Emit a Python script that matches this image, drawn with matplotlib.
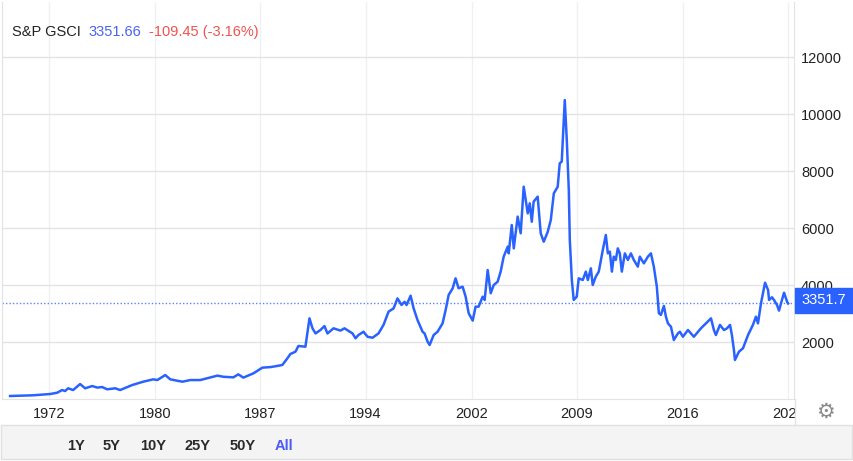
import matplotlib
matplotlib.use("Agg")
import matplotlib.pyplot as plt
from matplotlib.patches import Rectangle
from matplotlib.lines import Line2D
from matplotlib.transforms import Bbox, TransformedBbox

plt.rcParams['font.family'] = ['Liberation Sans', 'DejaVu Sans']

# S&P GSCI index level (decimal year, value)
years = [
    1970.00, 1971.60, 1972.78, 1973.27, 1973.61, 1973.82, 1974.03, 1974.38, 1974.86, 1975.21,
    1975.70, 1976.05, 1976.39, 1976.74, 1977.30, 1977.64, 1978.48, 1979.24, 1979.94, 1980.22,
    1980.77, 1981.12, 1981.95, 1982.51, 1983.20, 1984.39, 1984.80, 1985.50, 1985.84, 1986.19,
    1986.89, 1987.51, 1988.07, 1988.55, 1988.90, 1989.25, 1989.46, 1989.81, 1990.01, 1990.50,
    1990.78, 1990.99, 1991.20, 1991.54, 1991.82, 1992.03, 1992.45, 1992.93, 1993.21, 1993.77,
    1993.98, 1994.18, 1994.53, 1994.81, 1995.16, 1995.57, 1995.92, 1996.27, 1996.62, 1996.89,
    1997.17, 1997.38, 1997.52, 1997.80, 1998.01, 1998.28, 1998.63, 1998.77, 1998.98, 1999.12,
    1999.40, 1999.67, 2000.02, 2000.23, 2000.44, 2000.72, 2000.92, 2001.13, 2001.41, 2001.62,
    2001.83, 2002.11, 2002.31, 2002.52, 2002.80, 2002.94, 2003.15, 2003.36, 2003.57, 2003.84,
    2004.05, 2004.26, 2004.54, 2004.61, 2004.82, 2004.96, 2005.23, 2005.44, 2005.65, 2005.93,
    2006.07, 2006.21, 2006.34, 2006.62, 2006.83, 2007.04, 2007.32, 2007.53, 2007.74, 2008.01,
    2008.15, 2008.29, 2008.50, 2008.64, 2008.78, 2008.85, 2008.99, 2009.12, 2009.33, 2009.47,
    2009.75, 2009.96, 2010.10, 2010.31, 2010.44, 2010.65, 2010.86, 2011.14, 2011.35, 2011.49,
    2011.63, 2011.77, 2011.90, 2012.04, 2012.18, 2012.32, 2012.46, 2012.67, 2012.88, 2013.09,
    2013.29, 2013.57, 2013.71, 2013.99, 2014.27, 2014.48, 2014.68, 2014.89, 2015.03, 2015.17,
    2015.38, 2015.52, 2015.66, 2015.87, 2016.07, 2016.35, 2016.49, 2016.70, 2017.05, 2017.46,
    2017.95, 2018.30, 2018.65, 2018.85, 2018.99, 2019.27, 2019.55, 2019.76, 2019.97, 2020.10,
    2020.24, 2020.31, 2020.59, 2020.87, 2021.22, 2021.56, 2021.77, 2021.91, 2022.12, 2022.40,
    2022.61, 2022.68, 2022.88, 2023.02, 2023.23, 2023.37, 2023.51, 2023.72, 2023.93, 2024.00,
]
values = [
    105, 130, 175, 220, 315, 280, 375, 315, 525, 375,
    455, 400, 420, 340, 375, 315, 490, 607, 690, 665,
    840, 690, 607, 665, 665, 820, 780, 760, 865, 750,
    900, 1100, 1120, 1160, 1195, 1430, 1580, 1660, 1860, 1835,
    2830, 2480, 2300, 2420, 2560, 2300, 2480, 2400, 2480, 2300,
    2130, 2245, 2360, 2185, 2150, 2300, 2600, 3065, 3180, 3530,
    3300, 3410, 3300, 3625, 3180, 2770, 2360, 2300, 2010, 1895,
    2245, 2360, 2655, 3120, 3650, 3885, 4235, 3885, 3940, 3590,
    3010, 2750, 3240, 3240, 3590, 3475, 4525, 3710, 4000, 4115,
    4470, 4995, 5345, 5110, 6105, 5285, 6400, 5815, 7450, 6515,
    6865, 6220, 6925, 7100, 5815, 5520, 5870, 6280, 7215, 7450,
    8270, 8330, 10490, 9090, 7335, 5580, 4175, 3475, 3590, 4235,
    4175, 4470, 4175, 4585, 4000, 4290, 4470, 5230, 5755, 5110,
    5170, 4470, 4995, 4880, 5285, 5110, 4470, 5110, 4880, 5110,
    4880, 4645, 4995, 4760, 4995, 5110, 4645, 3940, 3010, 2950,
    3265, 2890, 2655, 2535, 2070, 2300, 2360, 2185, 2420, 2185,
    2480, 2655, 2830, 2420, 2245, 2600, 2420, 2480, 2600, 2245,
    1720, 1370, 1660, 1780, 2245, 2600, 2890, 2655, 3360, 4080,
    3825, 3475, 3570, 3475, 3300, 3100, 3360, 3730, 3410, 3352,
]
last_value = 3351.66
change = "-109.45 (-3.16%)"

x_ticks = [1972.71, 1980.08, 1987.37, 1994.67, 2002.04, 2009.33, 2016.70, 2024.00]
x_labels = ["1972", "1980", "1987", "1994", "2002", "2009", "2016", "2024"]
y_ticks = [2000, 4000, 6000, 8000, 10000, 12000]
ranges = ["1Y", "5Y", "10Y", "25Y", "50Y", "All"]

W, H = 854, 461
blue = "#2962ff"

fig = plt.figure(figsize=(W / 100, H / 100), dpi=100)
ax = fig.add_axes([2 / W, (H - 399) / H, 792 / W, 397 / H])

ax.plot(years, values, color=blue, lw=1.8, solid_joinstyle="round", zorder=3)
ax.axhline(last_value, color="#5f82ff", lw=1, ls=(0, (1, 1.5)), zorder=2)

ax.set_xlim(1969.44, 2024.41)
ax.set_ylim(0, 13930)
ax.set_xticks(x_ticks)
ax.set_xticklabels(x_labels)
ax.set_yticks(y_ticks)
ax.yaxis.tick_right()
ax.tick_params(axis="both", length=0, labelsize=10.5, labelcolor="#222222")
ax.tick_params(axis="y", pad=5)
ax.tick_params(axis="x", pad=6)
ax.grid(axis="y", color="#e3e3e3", lw=1)
ax.grid(axis="x", color="#eef0f3", lw=1)
ax.spines["top"].set_visible(False)
for s in ["left", "bottom", "right"]:
    ax.spines[s].set_color("#e3e3e3")

# last x label is cut off at the axis edge
clip = TransformedBbox(Bbox([[0, 0], [795 / W, 1]]), fig.transFigure)
for lbl in ax.get_xticklabels():
    lbl.set_clip_on(True)
    lbl.set_clip_box(clip)

# header
hy = (H - 32) / H
fig.text(12 / W, hy, "S&P GSCI", color="#222222", fontsize=10.5, va="center")
fig.text(88 / W, hy, f"{last_value:.2f}", color="#4a63f0", fontsize=10.5, va="center")
fig.text(149 / W, hy, change, color="#ef5350", fontsize=10.5, va="center")

# current value marker on the price scale
fig.patches.append(Rectangle((795 / W, (H - 313) / H), 59 / W, 25 / H,
                             transform=fig.transFigure, color=blue, zorder=5))
fig.text(801 / W, (H - 300) / H, f"{last_value:.1f}", color="white",
         fontsize=10.5, va="center", zorder=6)

# border under the price scale next to the time axis
fig.lines.append(Line2D([795 / W, 795 / W], [(H - 425) / H, (H - 399) / H],
                        transform=fig.transFigure, color="#e3e3e3", lw=1))
fig.text(825 / W, (H - 412) / H, "\u2699", color="#8a8a8a", fontsize=15,
         ha="center", va="center", family=["DejaVu Sans"])

# range selector bar
fig.patches.append(Rectangle((1 / W, 2 / H), 851 / W, 34 / H, transform=fig.transFigure,
                             facecolor="#f4f4f4", edgecolor="#e0e0e0", lw=1, zorder=0))
btn_x = [76, 112, 153, 198, 243, 284]
for lab, bx in zip(ranges, btn_x):
    col = "#4a5cf5" if lab == "All" else "#2a2a2a"
    fig.text(bx / W, (H - 446) / H, lab, color=col, fontsize=10.5,
             fontweight="bold", ha="center", va="center")

fig.savefig("out.png", dpi=100)
